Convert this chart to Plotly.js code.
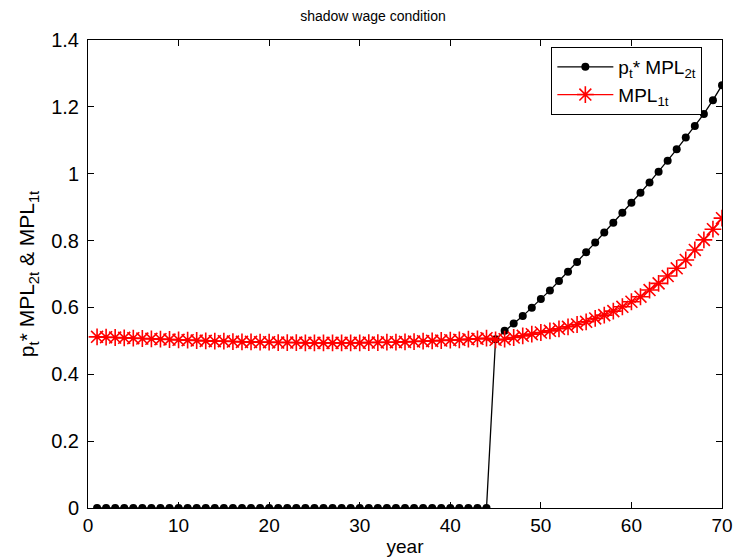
<!DOCTYPE html>
<html>
<head>
<meta charset="utf-8">
<script src="https://cdn.plot.ly/plotly-3.0.1.min.js"></script>
<style>html,body{margin:0;padding:0;background:#fff;}#chart{width:746px;height:559px;}</style>
</head>
<body>
<div id="chart"></div>
<script>
var years = [];
for (var i = 1; i <= 70; i++) years.push(i);

var pMPL2 = [0,0,0,0,0,0,0,0,0,0, 0,0,0,0,0,0,0,0,0,0, 0,0,0,0,0,0,0,0,0,0, 0,0,0,0,0,0,0,0,0,0, 0,0,0,0,
  0.505, 0.530, 0.552, 0.574, 0.599, 0.625, 0.651, 0.679, 0.707, 0.736, 0.765,
  0.794, 0.824, 0.853, 0.883, 0.913, 0.943, 0.974, 1.006, 1.039, 1.073,
  1.108, 1.143, 1.179, 1.220, 1.265];

var MPL1 = [0.512, 0.511, 0.510, 0.509, 0.508, 0.507, 0.506, 0.505, 0.504, 0.503,
  0.502, 0.501, 0.500, 0.499, 0.499, 0.498, 0.497, 0.497, 0.496, 0.496,
  0.495, 0.495, 0.495, 0.494, 0.494, 0.494, 0.494, 0.494, 0.494, 0.494,
  0.495, 0.495, 0.496, 0.496, 0.497, 0.498, 0.499, 0.500, 0.501, 0.502,
  0.503, 0.505, 0.506, 0.508, 0.503,
  0.505, 0.510, 0.515, 0.520, 0.525, 0.530, 0.536, 0.542, 0.549, 0.557,
  0.567, 0.577, 0.589, 0.602, 0.617, 0.632, 0.652, 0.672, 0.694, 0.717,
  0.742, 0.772, 0.802, 0.834, 0.867];

var font = 'Liberation Sans, Arial, Helvetica, sans-serif';

var traces = [
  {x: years, y: pMPL2, type: 'scatter', mode: 'lines+markers',
   name: 'p<sub>t</sub>* MPL<sub>2t</sub>',
   line: {color: '#000000', width: 1.3},
   marker: {symbol: 'circle', size: 8, color: '#000000'}},
  {x: years, y: MPL1, type: 'scatter', mode: 'lines+markers',
   name: 'MPL<sub>1t</sub>',
   line: {color: '#ff0000', width: 1.3},
   marker: {symbol: 'asterisk-open', size: 14, color: '#ff0000', line: {color: '#ff0000', width: 1.6}}}
];

var layout = {
  width: 746, height: 559,
  margin: {l: 88, r: 24, t: 40, b: 51},
  paper_bgcolor: '#ffffff', plot_bgcolor: '#ffffff',
  font: {family: font, size: 20, color: '#000000'},
  title: {text: 'shadow wage condition', font: {family: font, size: 14, color: '#000'}, x: 0.5, xanchor: 'center', y: 0.972, yanchor: 'middle'},
  showlegend: true,
  legend: {x: 0.969, y: 0.985, xanchor: 'right', yanchor: 'top', bgcolor: '#ffffff',
    bordercolor: '#000000', borderwidth: 1, itemwidth: 56, tracegroupgap: 6,
    font: {family: font, size: 19, color: '#000'}},
  xaxis: {range: [0, 70], tickmode: 'array', tickvals: [0,10,20,30,40,50,60,70],
    ticks: 'inside', ticklen: 6, tickcolor: '#000', showline: true, linecolor: '#000', linewidth: 1,
    mirror: 'ticks', showgrid: false, zeroline: false,
    tickfont: {family: font, size: 19},
    title: {text: 'year', font: {family: font, size: 19}, standoff: 4}},
  yaxis: {range: [0, 1.4], tickmode: 'array', tickvals: [0,0.2,0.4,0.6,0.8,1,1.2,1.4],
    ticktext: ['0','0.2','0.4','0.6','0.8','1','1.2','1.4'],
    ticks: 'inside', ticklen: 6, tickcolor: '#000', showline: true, linecolor: '#000', linewidth: 1,
    mirror: 'ticks', showgrid: false, zeroline: false, ticklabelstandoff: 4,
    tickfont: {family: font, size: 20},
    title: {text: 'p<sub>t</sub>* MPL<sub>2t</sub> & MPL<sub>1t</sub>', font: {family: font, size: 21}, standoff: 10}}
};

Plotly.newPlot('chart', traces, layout, {displayModeBar: false, staticPlot: true});
</script>
</body>
</html>
